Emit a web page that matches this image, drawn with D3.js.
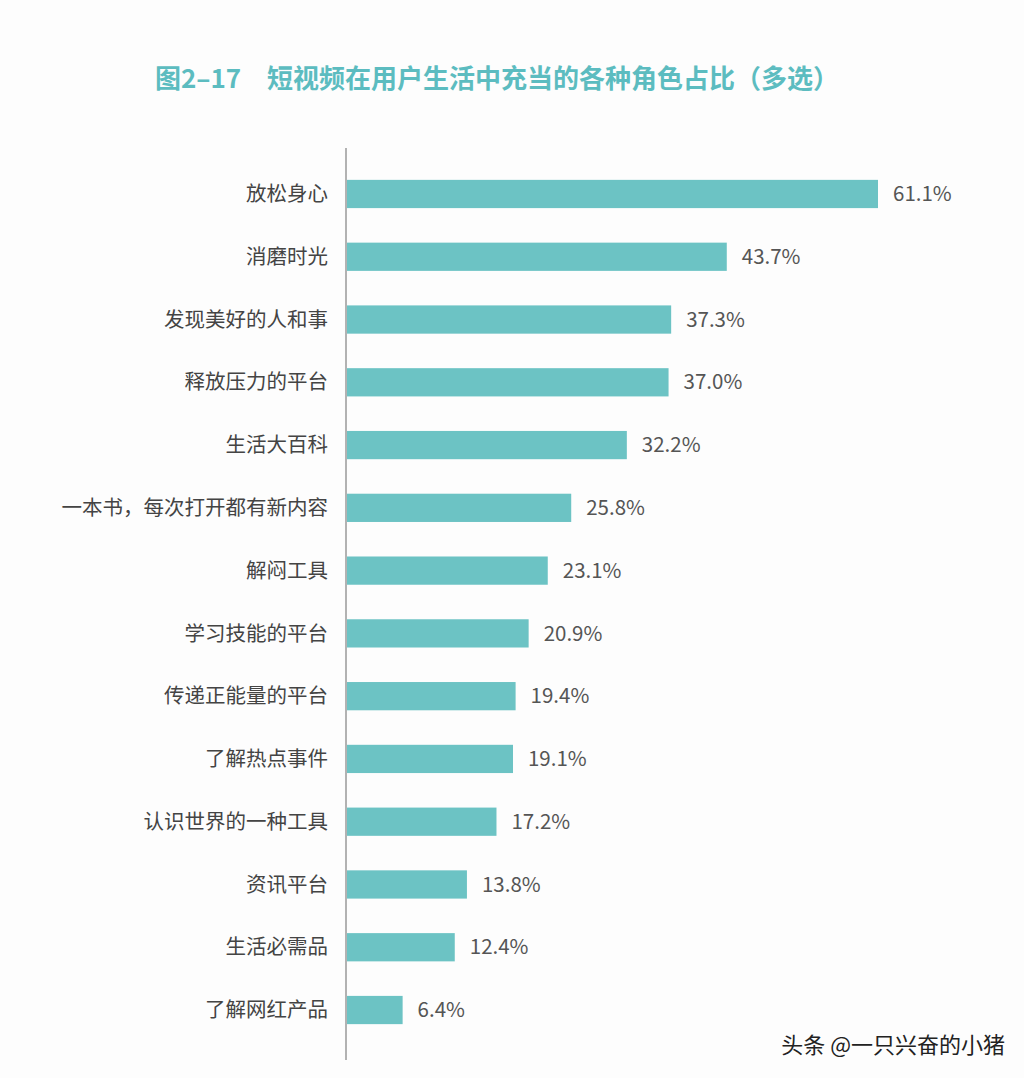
<!DOCTYPE html>
<html><head><meta charset="utf-8">
<script src="https://cdn.jsdelivr.net/npm/d3@7"></script>
<style>body{margin:0;background:#fff}</style></head>
<body><svg id="c" width="1024" height="1078"></svg>
<script>
const categories=["放松身心","消磨时光","发现美好的人和事","释放压力的平台","生活大百科","一本书，每次打开都有新内容","解闷工具","学习技能的平台","传递正能量的平台","了解热点事件","认识世界的一种工具","资讯平台","生活必需品","了解网红产品"];
const values=[61.1,43.7,37.3,37.0,32.2,25.8,23.1,20.9,19.4,19.1,17.2,13.8,12.4,6.4];
const svg=d3.select("#c");
const font="'Noto Sans CJK SC','Noto Sans',sans-serif";
svg.append("rect").attr("width",1024).attr("height",1078).attr("fill","#fdfdfd");
svg.append("text").attr("x",497).attr("y",88).attr("text-anchor","middle").attr("font-family",font).attr("font-size",26).attr("font-weight","bold").attr("fill","#5cbcc0").text("图2–17　短视频在用户生活中充当的各种角色占比（多选）");
const x=d3.scaleLinear().domain([0,61.1]).range([347,878]);
const y=d3.scaleBand().domain(categories).range([162.6,1041.4]).paddingInner(0.55).paddingOuter(0.275);
svg.append("line").attr("x1",346).attr("x2",346).attr("y1",148).attr("y2",1060).attr("stroke","#999").attr("stroke-width",1.5);
const g=svg.selectAll("g.b").data(categories).enter().append("g");
g.append("rect").attr("x",x(0)).attr("y",d=>y(d)).attr("height",y.bandwidth()).attr("width",(d,i)=>x(values[i])-x(0)).attr("fill","#6cc3c4");
g.append("text").attr("x",328).attr("y",d=>y(d)+y.bandwidth()/2).attr("dy","0.35em").attr("text-anchor","end").attr("font-family",font).attr("font-size",20.5).attr("fill","#444").text(d=>d);
g.append("text").attr("x",(d,i)=>x(values[i])+15).attr("y",d=>y(d)+y.bandwidth()/2).attr("dy","0.35em").attr("font-family",font).attr("font-size",20.5).attr("fill","#555").text((d,i)=>values[i].toFixed(1)+"%");
svg.append("text").attr("x",1005).attr("y",1053).attr("text-anchor","end").attr("font-family",font).attr("font-size",22).attr("fill","#222").text("头条 @一只兴奋的小猪");
</script></body></html>
